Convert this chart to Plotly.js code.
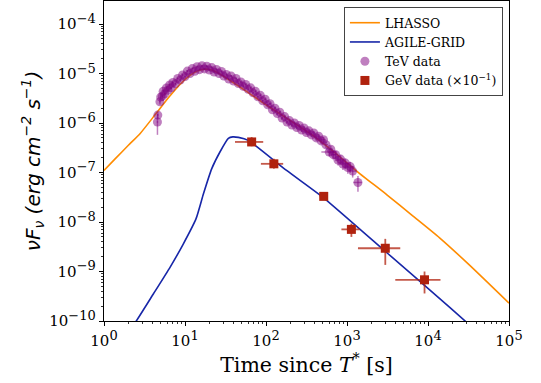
<!DOCTYPE html>
<html><head><meta charset="utf-8">
<script src="https://cdn.plot.ly/plotly-3.0.1.min.js"></script>
<style>body{margin:0;background:#fff}</style></head>
<body><div id="chart" style="width:541px;height:383px"></div>
<script>
// LHAASO model curve (time [s], flux)
const lhaasoT = [1, 1.38, 2.0, 2.8, 4.29, 6.31, 8.91, 11.2, 14.1, 17.8, 22.4, 31.6, 56.2, 100, 200, 378, 708, 1435, 3162, 6310, 13900, 31600, 100000];
const lhaasoF = [1.10e-7, 1.91e-7, 3.55e-7, 6.17e-7, 1.48e-6, 3.31e-6, 6.31e-6, 8.91e-6, 1.12e-5, 1.23e-5, 1.15e-5, 8.32e-6, 4.47e-6, 2.34e-6, 1.12e-6, 5.62e-7, 2.51e-7, 9.55e-8, 3.47e-8, 1.38e-8, 4.79e-9, 1.41e-9, 2.3e-10];

// AGILE-GRID model curve
const agileT = [2.29, 2.43, 4.08, 6.56, 9.55, 13.7, 16.9, 21.4, 27.0, 34.3, 38.9, 45.7, 60.4, 179.5, 531, 3162, 18400, 31600];
const agileF = [8.3e-11, 9.3e-11, 3.55e-10, 1.23e-9, 3.63e-9, 1.17e-8, 3.72e-8, 1.20e-7, 2.60e-7, 4.90e-7, 5.25e-7, 5.13e-7, 4.47e-7, 1.10e-7, 2.95e-8, 2.34e-9, 1.91e-10, 8.7e-11];

// TeV data
const tevT = [4.57, 4.62, 4.90, 5.01, 5.25, 5.37, 5.62, 5.89, 6.17, 6.46, 6.76, 7.08, 7.59, 8.13, 8.71, 9.33, 10.0, 10.7, 11.5, 12.3, 13.2, 14.1, 15.1, 16.2, 17.4, 18.6, 20.0, 21.4, 22.9, 24.5, 26.3, 28.2, 30.2, 32.4, 34.7, 37.2, 39.8, 42.7, 45.7, 49.0, 52.5, 56.2, 60.3, 64.6, 69.2, 74.1, 79.4, 85.1, 91.2, 97.7, 105, 112, 120, 129, 138, 148, 158, 170, 182, 195, 209, 224, 240, 257, 275, 295, 316, 339, 363, 389, 417, 447, 479, 513, 550, 603, 631, 676, 724, 776, 832, 891, 955, 1023, 1096, 1175, 1365];
const tevF = [1.05e-6, 1.45e-6, 2.69e-6, 3.35e-6, 3.45e-6, 4.37e-6, 3.90e-6, 5.10e-6, 4.60e-6, 5.90e-6, 5.15e-6, 6.60e-6, 6.20e-6, 7.95e-6, 7.40e-6, 9.35e-6, 8.70e-6, 1.12e-5, 1.00e-5, 1.26e-5, 1.11e-5, 1.38e-5, 1.20e-5, 1.44e-5, 1.24e-5, 1.41e-5, 1.18e-5, 1.32e-5, 1.07e-5, 1.21e-5, 1.00e-5, 1.10e-5, 8.90e-6, 9.55e-6, 7.75e-6, 8.90e-6, 7.05e-6, 7.95e-6, 6.30e-6, 6.75e-6, 5.50e-6, 6.00e-6, 4.80e-6, 5.15e-6, 4.07e-6, 4.37e-6, 3.40e-6, 3.63e-6, 2.82e-6, 3.02e-6, 2.34e-6, 2.45e-6, 1.86e-6, 2.00e-6, 1.55e-6, 1.66e-6, 1.26e-6, 1.35e-6, 1.05e-6, 1.12e-6, 9.10e-7, 1.00e-6, 8.10e-7, 8.90e-7, 7.25e-7, 7.95e-7, 6.45e-7, 6.95e-7, 5.75e-7, 6.30e-7, 5.00e-7, 5.40e-7, 4.35e-7, 4.60e-7, 3.65e-7, 2.60e-7, 2.95e-7, 2.30e-7, 2.30e-7, 1.78e-7, 1.87e-7, 1.48e-7, 1.55e-7, 1.26e-7, 1.32e-7, 1.07e-7, 6.3e-8];
// relative flux errors and relative time half-widths
const tevErrY = [0.45, 0.15, 0.12, 0.10, 0.10, 0.08, 0.08, 0.07, 0.07, 0.06, 0.06, 0.06, 0.05, 0.05, 0.05, 0.05, 0.05, 0.05, 0.05, 0.05, 0.05, 0.05, 0.05, 0.05, 0.05, 0.05, 0.05, 0.05, 0.05, 0.05, 0.05, 0.05, 0.05, 0.05, 0.05, 0.05, 0.05, 0.05, 0.05, 0.05, 0.05, 0.05, 0.05, 0.05, 0.05, 0.05, 0.05, 0.05, 0.05, 0.05, 0.06, 0.06, 0.06, 0.06, 0.06, 0.06, 0.07, 0.07, 0.07, 0.07, 0.08, 0.08, 0.08, 0.08, 0.09, 0.09, 0.10, 0.10, 0.10, 0.10, 0.12, 0.12, 0.12, 0.14, 0.15, 0.18, 0.18, 0.20, 0.20, 0.22, 0.22, 0.24, 0.24, 0.25, 0.25, 0.26, 0.35];
const tevErrX = [0.02, 0.02, 0.02, 0.02, 0.02, 0.02, 0.02, 0.02, 0.02, 0.02, 0.02, 0.02, 0.02, 0.02, 0.02, 0.02, 0.02, 0.02, 0.02, 0.02, 0.02, 0.02, 0.02, 0.02, 0.02, 0.02, 0.02, 0.02, 0.02, 0.02, 0.02, 0.02, 0.02, 0.02, 0.02, 0.02, 0.02, 0.02, 0.02, 0.02, 0.02, 0.02, 0.02, 0.02, 0.02, 0.02, 0.02, 0.02, 0.02, 0.02, 0.03, 0.03, 0.03, 0.03, 0.03, 0.03, 0.03, 0.03, 0.03, 0.03, 0.03, 0.03, 0.03, 0.03, 0.04, 0.04, 0.04, 0.04, 0.04, 0.04, 0.05, 0.05, 0.05, 0.06, 0.06, 0.20, 0.06, 0.08, 0.08, 0.08, 0.10, 0.10, 0.10, 0.10, 0.10, 0.10, 0.12];

// GeV data (x 1e-1)
const gevT = [66.5, 125, 516, 1133, 2970, 9060];
const gevF = [4.15e-7, 1.50e-7, 3.30e-8, 7.10e-9, 2.95e-9, 6.80e-10];
const gevTLo = [41.4, 86.5, 460, 853, 1366, 3945];
const gevTHi = [92.4, 163, 580, 1433, 4544, 14260];
const gevFLo = [3.4e-7, 1.2e-7, 2.8e-8, 5.0e-9, 1.36e-9, 3.6e-10];
const gevFHi = [5.2e-7, 1.9e-7, 3.9e-8, 9.3e-9, 4.57e-9, 1.0e-9];

const SUP = s => '10<sup><span style="font-size:13px">' + s + '</span></sup>';
const xTickVals = [1, 10, 100, 1000, 10000, 100000];
const xTickText = [SUP('0'), SUP('1'), SUP('2'), SUP('3'), SUP('4'), SUP('5')];
const yTickVals = [1e-10, 1e-9, 1e-8, 1e-7, 1e-6, 1e-5, 1e-4];
const yTickText = [SUP('\u221210'), SUP('\u22129'), SUP('\u22128'), SUP('\u22127'), SUP('\u22126'), SUP('\u22125'), SUP('\u22124')];

function minorLog(lo, hi) {
  const v = [];
  for (let e = lo; e < hi; e++) for (let m = 2; m <= 9; m++) v.push(m * Math.pow(10, e));
  return v;
}

const purple = 'rgba(128,0,128,0.5)';
const red = '#B0220E';

const traces = [
  {x: lhaasoT, y: lhaasoF, mode: 'lines', name: 'LHASSO', line: {color: '#FF8C00', width: 1.6, shape: 'spline', smoothing: 0.6}},
  {x: agileT, y: agileF, mode: 'lines', name: 'AGILE-GRID', line: {color: '#1726A8', width: 1.6, shape: 'spline', smoothing: 0.5}},
  {x: tevT, y: tevF, mode: 'markers', name: 'TeV data',
   marker: {color: purple, size: 9, line: {width: 0}},
   error_y: {type: 'data', array: tevF.map((f, i) => f * tevErrY[i]), color: purple, thickness: 1.5, width: 0},
   error_x: {type: 'data', array: tevT.map((t, i) => t * tevErrX[i]), color: purple, thickness: 1.5, width: 0}},
  {x: gevT, y: gevF, mode: 'markers', name: 'GeV data (\u00d710<sup>\u22121</sup>)',
   marker: {color: red, size: 9, symbol: 'square', line: {width: 0}},
   error_y: {type: 'data', array: gevF.map((f, i) => gevFHi[i] - f), arrayminus: gevF.map((f, i) => f - gevFLo[i]), color: 'rgba(176,34,14,0.75)', thickness: 1.8, width: 0},
   error_x: {type: 'data', array: gevT.map((t, i) => gevTHi[i] - t), arrayminus: gevT.map((t, i) => t - gevTLo[i]), color: 'rgba(176,34,14,0.75)', thickness: 1.8, width: 0}}
];

const tickFont = {family: 'DejaVu Serif', size: 15, color: '#000'};
const layout = {
  width: 541, height: 383,
  margin: {l: 104, r: 32, t: 1, b: 62},
  paper_bgcolor: '#fff', plot_bgcolor: '#fff',
  showlegend: true,
  legend: {x: 0.985, y: 0.981, xanchor: 'right', yanchor: 'top', bgcolor: '#fff', bordercolor: '#444', borderwidth: 1,
           font: {family: 'DejaVu Serif', size: 12.5, color: '#000'}, tracegroupgap: 0, itemwidth: 30},
  xaxis: {type: 'log', range: [0, 5], tickmode: 'array', tickvals: xTickVals, ticktext: xTickText,
          ticks: 'outside', ticklen: 4, tickwidth: 1, tickcolor: '#000', tickfont: tickFont, ticklabelstandoff: 2,
          showline: true, linecolor: '#000', linewidth: 1.2, mirror: true, showgrid: false, zeroline: false,
          minor: {tickmode: 'array', tickvals: minorLog(0, 5), ticks: 'outside', ticklen: 2, tickcolor: '#000', tickwidth: 0.8, showgrid: false},
          title: {text: 'Time since <i>T</i><sup>*</sup> [s]', font: {family: 'DejaVu Serif', size: 20.5, color: '#000'}, standoff: 1}},
  yaxis: {type: 'log', range: [-10, -3.534], tickmode: 'array', tickvals: yTickVals, ticktext: yTickText,
          ticks: 'outside', ticklen: 4, tickwidth: 1, tickcolor: '#000', tickfont: tickFont,
          showline: true, linecolor: '#000', linewidth: 1.2, mirror: true, showgrid: false, zeroline: false,
          minor: {tickmode: 'array', tickvals: minorLog(-10, -4), ticks: 'outside', ticklen: 2, tickcolor: '#000', tickwidth: 0.8, showgrid: false},
          title: {text: '<i>\u03bdF<sub>\u03bd</sub> (erg cm<sup>\u22122</sup> s<sup>\u22121</sup>)</i>', font: {family: 'DejaVu Sans', size: 20, color: '#000'}, standoff: 3}}
};

Plotly.newPlot('chart', traces, layout, {displayModeBar: false, staticPlot: true});
</script>
</body></html>
